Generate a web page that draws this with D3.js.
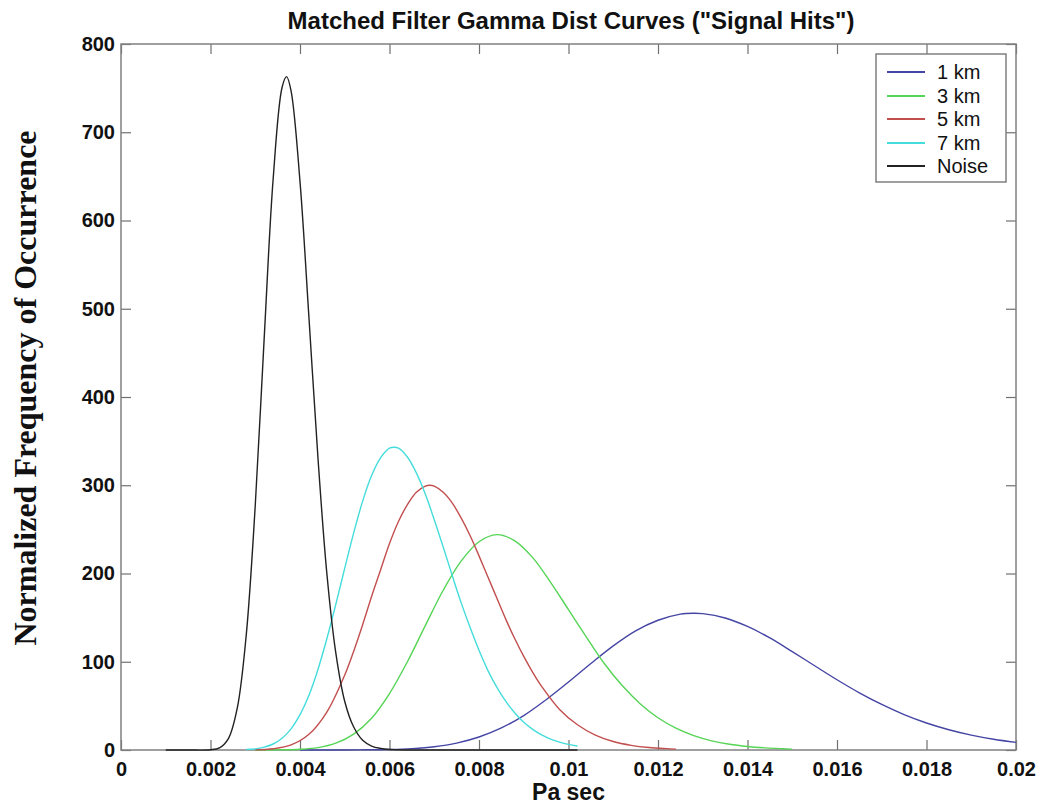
<!DOCTYPE html>
<html>
<head>
<meta charset="utf-8">
<script src="https://cdn.jsdelivr.net/npm/d3@7"></script>
<style>
  body { margin: 0; background: #fff; }
  .axis text { font-family: "Liberation Sans", Arial, sans-serif; font-weight: bold; font-size: 20px; fill: #111; }
  .axis line { stroke: #707070; stroke-width: 1.2; }
</style>
</head>
<body>
<div id="chart"></div>
<script>
// legend names and line colours, in legend order
var seriesNames = ['1 km', '3 km', '5 km', '7 km', 'Noise'];
var seriesColors = ['#4545a5', '#55d455', '#c24e4e', '#45dcdc', '#222222'];

// 1 km (blue)
var x1km = [0.004, 0.0045, 0.005, 0.0055, 0.006, 0.0065, 0.007, 0.0075, 0.008, 0.0085,
            0.009, 0.0095, 0.010, 0.0105, 0.011, 0.0115, 0.012, 0.0125, 0.0128, 0.013,
            0.0135, 0.014, 0.0145, 0.015, 0.0155, 0.016, 0.0165, 0.017, 0.0175, 0.018,
            0.0185, 0.019, 0.0195, 0.020];
var y1km = [0, 0, 0, 0.2, 0.6, 1.6, 3.7, 7.8, 14.7, 25,
            39, 57, 77, 98, 118, 135, 147, 154, 155, 154.5,
            149.6, 140, 127, 111.5, 95.5, 79.6, 64.8, 51.6, 40.1, 30.6,
            23, 16.9, 12.2, 8.7];

// 3 km (green)
var x3km = [0.003, 0.0036, 0.004, 0.0044, 0.0048, 0.0052, 0.0056, 0.006, 0.0064, 0.0068,
            0.0072, 0.0076, 0.008, 0.0084, 0.0088, 0.0092, 0.0096, 0.010, 0.0104, 0.0108,
            0.0112, 0.0116, 0.012, 0.0124, 0.0128, 0.0132, 0.0136, 0.014, 0.0144, 0.0148,
            0.015];
var y3km = [0, 0.2, 0.8, 2.7, 7.7, 18, 36, 64, 100, 141,
            181, 214, 236, 244, 237, 218, 190, 159, 128, 98,
            73, 52.5, 36.5, 24.7, 16.3, 10.4, 6.5, 4, 2.4, 1.4,
            1];

// 5 km (red)
var x5km = [0.003, 0.0034, 0.0038, 0.0042, 0.0046, 0.005, 0.0052, 0.0054, 0.0056, 0.0058,
            0.006, 0.0062, 0.0064, 0.0066, 0.0068, 0.0069, 0.007, 0.0072, 0.0074, 0.0076,
            0.0078, 0.008, 0.0082, 0.0084, 0.0086, 0.0088, 0.009, 0.0092, 0.0094, 0.0098,
            0.0102, 0.0106, 0.011, 0.0114, 0.0118, 0.0122, 0.0124];
var y5km = [0.2, 1.4, 5.7, 17.8, 43, 85, 112, 142, 174, 204,
            234, 259, 278, 292, 299, 300, 299, 292, 280, 263,
            243, 220, 196, 172, 148, 126, 106, 88, 72, 46,
            28.6, 16.9, 9.6, 5.3, 2.8, 1.5, 1];

// 7 km (cyan)
var x7km = [0.0028, 0.003, 0.0032, 0.0034, 0.0036, 0.0038, 0.004, 0.0042, 0.0044, 0.0046,
            0.0048, 0.005, 0.0052, 0.0054, 0.0056, 0.0058, 0.006, 0.0061, 0.0062, 0.0064,
            0.0066, 0.0068, 0.007, 0.0072, 0.0074, 0.0076, 0.0078, 0.008, 0.0082, 0.0084,
            0.0086, 0.0088, 0.009, 0.0092, 0.0094, 0.0096, 0.0098, 0.010, 0.0102];
var y7km = [0.5, 1.3, 3.2, 6.8, 13.4, 24, 40, 62, 91, 126,
            165, 206, 246, 282, 311, 331, 342, 343, 342, 332,
            314, 290, 261, 230, 198, 167, 139, 113, 90, 71,
            55, 42, 31.5, 23.4, 17.1, 12.4, 8.9, 6.3, 4.5];

// Noise (black)
var xNoise = [0.001, 0.0015, 0.002, 0.0022, 0.0024, 0.0026, 0.0028, 0.003, 0.0032, 0.0034,
              0.0036, 0.0037, 0.0038, 0.004, 0.0042, 0.0044, 0.0046, 0.0048, 0.005, 0.0052,
              0.0054, 0.0056, 0.0058, 0.006, 0.007, 0.008, 0.009, 0.0102];
var yNoise = [0, 0, 0.3, 2.5, 13, 48, 131, 277, 467, 647,
              751, 763, 747, 644, 490, 332, 200, 110, 55, 26,
              11, 4.5, 1.8, 0.6, 0, 0, 0, 0];

var xTicks = [0, 0.002, 0.004, 0.006, 0.008, 0.010, 0.012, 0.014, 0.016, 0.018, 0.020];
var xTickLabels = ['0', '0.002', '0.004', '0.006', '0.008', '0.01', '0.012', '0.014', '0.016', '0.018', '0.02'];
var yTicks = [0, 100, 200, 300, 400, 500, 600, 700, 800];
var yTickLabels = ['0', '100', '200', '300', '400', '500', '600', '700', '800'];

var pic_width = 1038,
    pic_height = 807,
    axis_color = '#808080',
    tick_len = 10;

var margin = { top: 44, right: 22, bottom: 57, left: 121 };
var width = pic_width - margin.left - margin.right,
    height = pic_height - margin.top - margin.bottom;

var series = [
  { xs: x1km, ys: y1km },
  { xs: x3km, ys: y3km },
  { xs: x5km, ys: y5km },
  { xs: x7km, ys: y7km },
  { xs: xNoise, ys: yNoise }
].map(function(s, i) {
  return {
    name: seriesNames[i],
    color: seriesColors[i],
    points: s.xs.map(function(x, j) { return [x, s.ys[j]]; })
  };
});

var xScale = d3.scaleLinear().domain([0, 0.02]).range([0, width]);
var yScale = d3.scaleLinear().domain([0, 800]).range([height, 0]);

var svg = d3.select('#chart').append('svg')
  .attr('width', pic_width)
  .attr('height', pic_height)
  .style('background', '#fff');

var g = svg.append('g')
  .attr('transform', 'translate(' + margin.left + ',' + margin.top + ')');

// axes: matlab style, ticks pointing inward on all four sides
g.append('g').attr('class', 'axis')
  .attr('transform', 'translate(0,' + height + ')')
  .call(d3.axisBottom(xScale).tickValues(xTicks)
    .tickFormat(function(d, i) { return xTickLabels[i]; })
    .tickSizeInner(-tick_len).tickSizeOuter(0).tickPadding(12));

g.append('g').attr('class', 'axis')
  .call(d3.axisLeft(yScale).tickValues(yTicks)
    .tickFormat(function(d, i) { return yTickLabels[i]; })
    .tickSizeInner(-tick_len).tickSizeOuter(0).tickPadding(6));

g.append('g').attr('class', 'axis')
  .call(d3.axisTop(xScale).tickValues(xTicks).tickFormat('')
    .tickSizeInner(-tick_len).tickSizeOuter(0));

g.append('g').attr('class', 'axis')
  .attr('transform', 'translate(' + width + ',0)')
  .call(d3.axisRight(yScale).tickValues(yTicks).tickFormat('')
    .tickSizeInner(-tick_len).tickSizeOuter(0));

g.selectAll('.axis .domain').remove();

g.append('rect')
  .attr('width', width)
  .attr('height', height)
  .attr('fill', 'none')
  .attr('stroke', axis_color)
  .attr('stroke-width', 1.5);

// catmull-rom keeps the peaks round instead of flat
var line = d3.line()
  .x(function(d) { return xScale(d[0]); })
  .y(function(d) { return Math.min(yScale(d[1]), height); })
  .curve(d3.curveCatmullRom.alpha(0.5));

g.selectAll('path.curve').data(series)
  .enter().append('path')
  .attr('class', 'curve')
  .attr('d', function(d) { return line(d.points); })
  .attr('fill', 'none')
  .attr('stroke', function(d) { return d.color; })
  .attr('stroke-width', 1.4);

// title and axis labels
svg.append('text')
  .attr('x', 571)
  .attr('y', 29)
  .attr('text-anchor', 'middle')
  .style('font-family', '"Liberation Sans", Arial, sans-serif')
  .style('font-weight', 'bold')
  .style('font-size', '24px')
  .style('fill', '#111')
  .text('Matched Filter Gamma Dist Curves ("Signal Hits")');

svg.append('text')
  .attr('x', margin.left + width / 2)
  .attr('y', 800)
  .attr('text-anchor', 'middle')
  .style('font-family', '"Liberation Sans", Arial, sans-serif')
  .style('font-weight', 'bold')
  .style('font-size', '23px')
  .style('fill', '#111')
  .text('Pa sec');

svg.append('text')
  .attr('transform', 'translate(36,388) rotate(-90)')
  .attr('text-anchor', 'middle')
  .style('font-family', '"Liberation Serif", "Times New Roman", serif')
  .style('font-weight', 'bold')
  .style('font-size', '32px')
  .style('fill', '#111')
  .text('Normalized Frequency of Occurrence');

// legend box, top right
var legend = svg.append('g').attr('transform', 'translate(876,54)');

legend.append('rect')
  .attr('width', 130)
  .attr('height', 128)
  .attr('fill', '#fff')
  .attr('stroke', axis_color)
  .attr('stroke-width', 1.5);

var items = legend.selectAll('g.item').data(series)
  .enter().append('g')
  .attr('class', 'item')
  .attr('transform', function(d, i) { return 'translate(0,' + Math.round(18 + i * 23.5) + ')'; });

items.append('line')
  .attr('x1', 11).attr('x2', 49)
  .attr('stroke', function(d) { return d.color; })
  .attr('stroke-width', 2);

items.append('text')
  .attr('x', 61)
  .attr('dy', '0.35em')
  .style('font-family', '"Liberation Sans", Arial, sans-serif')
  .style('font-size', '20px')
  .style('fill', '#111')
  .text(function(d) { return d.name; });
</script>
</body>
</html>
